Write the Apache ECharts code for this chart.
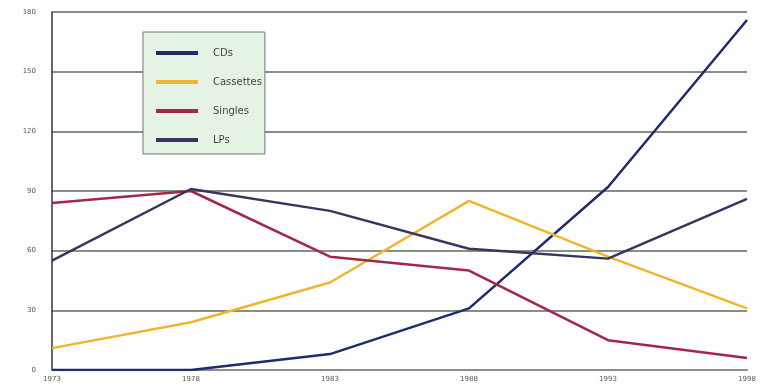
<!DOCTYPE html>
<html>
<head>
<meta charset="utf-8">
<script src="https://cdn.jsdelivr.net/npm/echarts@6/dist/echarts.min.js"></script>
<style>
  html, body { margin: 0; padding: 0; background: #fff; }
  #chart { width: 768px; height: 391px; }
</style>
</head>
<body>
<div id="chart"></div>
<script>
// sales by year
var years = ['1973', '1978', '1983', '1988', '1993', '1998'];
var cds = [0, 0, 8, 31, 92, 176];
var cassettes = [11, 24, 44, 85, 57, 31];
var singles = [84, 90, 57, 50, 15, 6];
var lps = [55, 91, 80, 61, 56, 86];
var yTicks = [0, 30, 60, 90, 120, 150, 180];

var colors = ['#1e2b6e', '#efb52e', '#a2284a', '#3a3360'];

var mkLine = function (name, data, color) {
  return {
    name: name,
    type: 'line',
    data: data,
    symbol: 'none',
    lineStyle: { color: color, width: 2.5 },
    itemStyle: { color: color }
  };
};

var chart = echarts.init(document.getElementById('chart'));
chart.setOption({
  animation: false,
  backgroundColor: '#fff',
  grid: { left: 52, right: 21, top: 12, bottom: 21 },
  legend: {
    orient: 'vertical',
    left: 143,
    top: 32,
    padding: [16, 3, 9, 13],
    backgroundColor: '#e4f3e4',
    borderColor: '#6a7a6a',
    borderWidth: 1,
    itemWidth: 42,
    itemHeight: 4,
    itemGap: 19,
    icon: 'rect',
    textStyle: { fontFamily: 'DejaVu Sans', fontSize: 10, color: '#444', padding: [0, 0, 0, 10] },
    data: ['CDs', 'Cassettes', 'Singles', 'LPs']
  },
  xAxis: {
    type: 'category',
    data: years,
    boundaryGap: false,
    axisLine: { lineStyle: { color: '#8a8f8a', width: 2 } },
    axisTick: { show: false },
    axisLabel: { fontFamily: 'DejaVu Sans', fontSize: 7, color: '#555', margin: 6 }
  },
  yAxis: {
    type: 'value',
    min: 0,
    max: 180,
    interval: 30,
    axisLine: { show: true, lineStyle: { color: '#333', width: 1.5 } },
    axisTick: { show: false },
    axisLabel: { fontFamily: 'DejaVu Sans', fontSize: 7, color: '#555', margin: 16 },
    splitLine: { lineStyle: { color: '#5d6b5d', width: 1.5 } }
  },
  series: [
    mkLine('CDs', cds, colors[0]),
    mkLine('Cassettes', cassettes, colors[1]),
    mkLine('Singles', singles, colors[2]),
    mkLine('LPs', lps, colors[3])
  ]
});
</script>
</body>
</html>
